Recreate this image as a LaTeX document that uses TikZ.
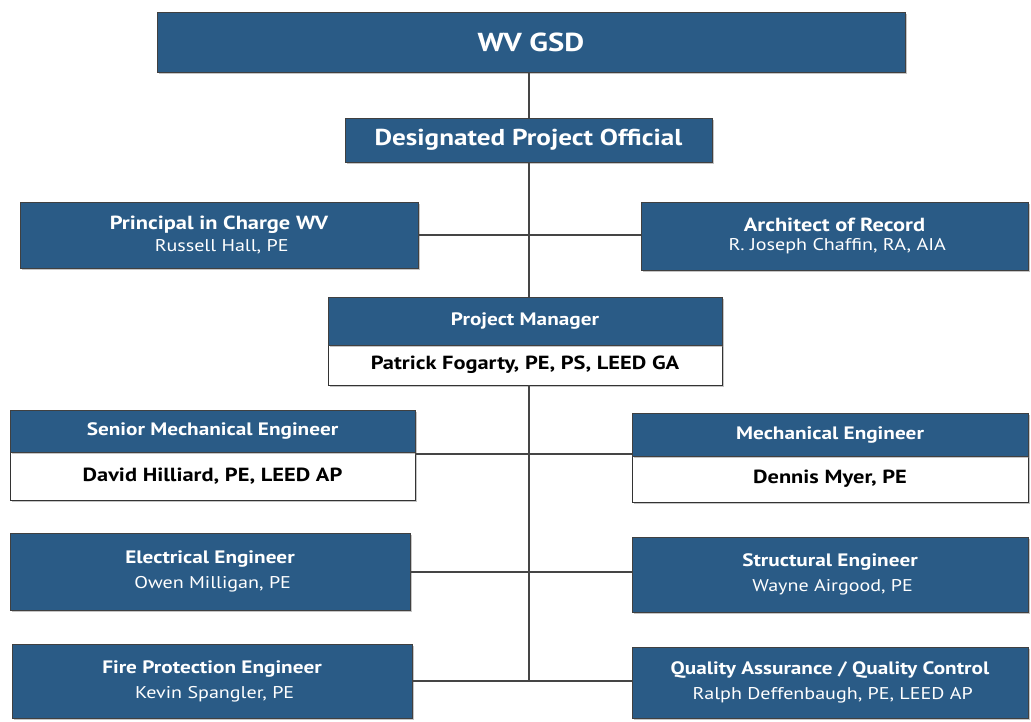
\documentclass[tikz,border=0pt]{standalone}
\usepackage{fontspec}
\setmainfont{PT Sans}[FakeStretch=1.18]
\usetikzlibrary{shadows}
\definecolor{boxblue}{HTML}{2A5B86}
\definecolor{linegray}{HTML}{454545}
\newcommand{\fsz}[1]{\fontsize{#1pt}{#1pt}\selectfont}
\begin{document}
\begin{tikzpicture}[x=1pt,y=-1pt,
  bluebox/.style={draw=black!75, line width=0.8pt, fill=boxblue, text=white, align=center, inner sep=0pt,
     drop shadow={shadow xshift=2pt, shadow yshift=-2pt, opacity=0.45}},
  whitebox/.style={draw=black!80, line width=0.8pt, fill=white, text=black, align=center, inner sep=0pt,
     drop shadow={shadow xshift=2pt, shadow yshift=-2pt, opacity=0.45}},
  conn/.style={draw=linegray, line width=2pt}]
\useasboundingbox[fill=white] (0,0) rectangle (1031,721);
% boxes
\node[bluebox, minimum width=748, minimum height=60, font=\fsz{26}\bfseries] (gsd) at (531,42) {WV GSD};
\node[bluebox, minimum width=367, minimum height=44, font=\fsz{23}\bfseries] (dpo) at (528.5,140) {Designated Project Official};
\node[bluebox, minimum width=398, minimum height=66] (pic) at (219,235)
  {{\fsz{19}\bfseries Principal in Charge WV}\\[5pt]{\fsz{17} Russell Hall, PE}};
\node[bluebox, minimum width=387, minimum height=68] (aor) at (834.5,236)
  {{\fsz{19}\bfseries Architect of Record}\\[5pt]{\fsz{17} R. Joseph Chaffin, RA, AIA}};
\node[whitebox, minimum width=394, minimum height=40, font=\fsz{19}\bfseries] (pmB) at (525,365) {Patrick Fogarty, PE, PS, LEED GA};
\node[bluebox, minimum width=394, minimum height=48, font=\fsz{18}\bfseries] (pmT) at (525,321) {Project Manager};
\node[whitebox, minimum width=405, minimum height=48, font=\fsz{19}\bfseries] (smeB) at (212.5,476) {David Hilliard, PE, LEED AP};
\node[bluebox, minimum width=405, minimum height=42, font=\fsz{18}\bfseries] (smeT) at (212.5,431) {Senior Mechanical Engineer};
\node[whitebox, minimum width=396, minimum height=46, font=\fsz{19}\bfseries] (meB) at (830,479) {Dennis Myer, PE};
\node[bluebox, minimum width=396, minimum height=43, font=\fsz{18}\bfseries] (meT) at (830,434.5) {Mechanical Engineer};
\node[bluebox, minimum width=400, minimum height=77] (ee) at (210,571.5)
  {{\fsz{18}\bfseries Electrical Engineer}\\[8pt]{\fsz{17} Owen Milligan, PE}};
\node[bluebox, minimum width=396, minimum height=75] (se) at (830,574.5)
  {{\fsz{18}\bfseries Structural Engineer}\\[8pt]{\fsz{17} Wayne Airgood, PE}};
\node[bluebox, minimum width=400, minimum height=74] (fpe) at (212,681)
  {{\fsz{18}\bfseries Fire Protection Engineer}\\[8pt]{\fsz{17} Kevin Spangler, PE}};
\node[bluebox, minimum width=396, minimum height=71] (qa) at (830,682.5)
  {{\fsz{18}\bfseries Quality Assurance / Quality Control}\\[8pt]{\fsz{17} Ralph Deffenbaugh, PE, LEED AP}};
\coordinate (trunkbot) at (fpe.east -| dpo.south);
% connectors
\draw[conn] (gsd.south -| dpo.north) -- (dpo.north);
\draw[conn] (dpo.south) -- (pmT.north -| dpo.south);
\draw[conn] (pic.east) -- (pic.east -| aor.west);
\draw[conn] (pmB.south -| dpo.south) -- (trunkbot);
\draw[conn] ([yshift=-2pt]smeT.south east) -- ([yshift=-2pt]smeT.south east -| meT.south west);
\draw[conn] (ee.east) -- (ee.east -| se.west);
\draw[conn] (fpe.east) -- (fpe.east -| qa.west);
\end{tikzpicture}
\end{document}
